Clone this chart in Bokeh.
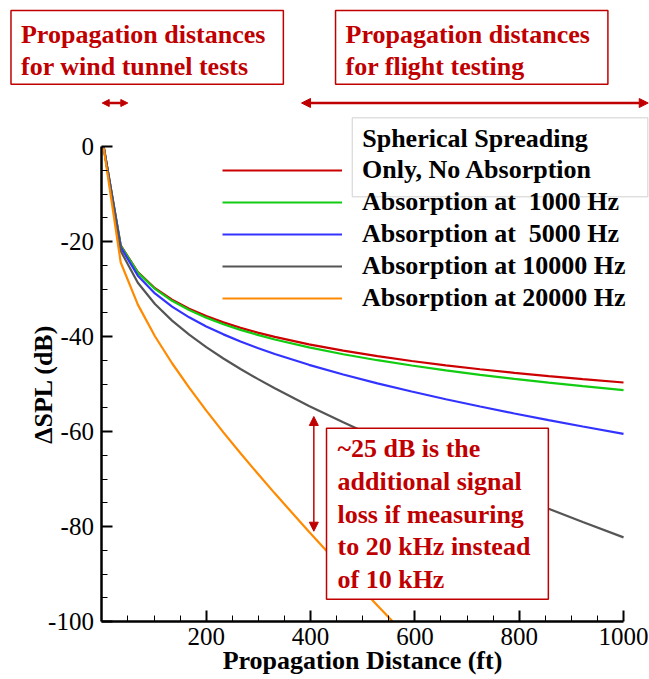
from bokeh.plotting import figure
from bokeh.models import (Range1d, FixedTicker, Label, Arrow, NormalHead, Legend, LegendItem)
from bokeh.embed import file_html
from bokeh.resources import INLINE

# ---- data ----
distance_ft = [3.3, 36.1, 68.9, 101.7, 134.5, 167.3, 200.1, 232.9, 265.7, 298.6, 331.4,
               397.0, 462.6, 528.2, 593.8, 659.4, 725.1, 790.7, 856.3, 921.9, 1000.0]
spherical = [0.0, -20.83, -26.44, -29.83, -32.26, -34.15, -35.71, -37.03, -38.17, -39.18, -40.09,
             -41.66, -42.98, -44.14, -45.15, -46.06, -46.89, -47.64, -48.33, -48.97, -49.68]
abs_1000 = [0.0, -20.89, -26.55, -29.99, -32.48, -34.42, -36.03, -37.41, -38.60, -39.66, -40.63,
            -42.30, -43.73, -44.99, -46.11, -47.13, -48.06, -48.92, -49.71, -50.46, -51.30]
abs_5000 = [0.0, -21.22, -27.19, -30.93, -33.72, -35.96, -37.88, -39.55, -41.05, -42.41, -43.68,
            -45.96, -47.99, -49.86, -51.58, -53.20, -54.74, -56.20, -57.60, -58.95, -60.50]
abs_10000 = [-0.1, -22.01, -28.69, -33.15, -36.65, -39.61, -42.24, -44.63, -46.84, -48.92, -50.90,
             -54.61, -58.07, -61.37, -64.52, -67.57, -70.54, -73.43, -76.26, -79.04, -82.29]
distance_ft_20k = [3.3, 36.1, 68.9, 101.7, 134.5, 167.3, 200.1, 232.9, 265.7, 298.6, 331.4,
                   397.0, 462.6, 528.2, 557.5]
abs_20000 = [-0.3, -24.42, -33.29, -39.94, -45.63, -50.78, -55.60, -60.18, -64.58, -68.85, -73.02,
             -81.11, -88.95, -96.63, -100.0]

x_ticks = [200, 400, 600, 800, 1000]
x_minor = [50, 100, 150, 250, 300, 350, 450, 500, 550, 650, 700, 750, 850, 900, 950]
y_ticks = [-100, -80, -60, -40, -20, 0]
y_minor = [-95, -90, -85, -75, -70, -65, -55, -50, -45, -35, -30, -25, -15, -10, -5]

series_labels = ["Only, No Absorption", "Absorption at \u00a01000 Hz", "Absorption at \u00a05000 Hz",
                 "Absorption at 10000 Hz", "Absorption at 20000 Hz"]
series_colors = ["#cc0000", "#11cc11", "#3333ff", "#555555", "#ff8a00"]

# annotation anchor positions (ft, dB)
wind_tunnel_range = (0.6, 49.7)
flight_range = (382.7, 1047.4)
range_arrow_y = 9.16
loss_arrow_x = 406.3
loss_arrow_y = (-56.84, -80.99)

RED = "#c00000"
SERIF = "Liberation Serif"

# the frame spans the whole canvas; axes are fixed at x=0 and y=-100
p = figure(width=649, height=679, x_range=Range1d(-194.4, 1049.8), y_range=Range1d(-112.21, 30.74),
           output_backend="svg", toolbar_location=None, title_location=None,
           min_border_left=0, min_border_right=0, min_border_top=0, min_border_bottom=0)
p.outline_line_color = None
p.grid.visible = False
p.background_fill_color = "white"

xs_all = [distance_ft, distance_ft, distance_ft, distance_ft, distance_ft_20k]
ys_all = [spherical, abs_1000, abs_5000, abs_10000, abs_20000]
renderers = []
for xs, ys, c in zip(xs_all, ys_all, series_colors):
    renderers.append(p.line(xs, ys, line_color=c, line_width=2.2))

# axes
xa, ya = p.xaxis[0], p.yaxis[0]
xa.fixed_location = -100
xa.bounds = (0, 1000)
ya.fixed_location = 0
ya.bounds = (-100, 0)
for ax, ticks, minor in ((xa, x_ticks, x_minor), (ya, y_ticks, y_minor)):
    ax.ticker = FixedTicker(ticks=ticks, minor_ticks=minor)
    ax.major_label_overrides = {t: str(t) for t in ticks}
    ax.major_tick_in = 11
    ax.major_tick_out = 0
    ax.minor_tick_in = 6
    ax.minor_tick_out = 0
    ax.axis_line_width = 2.5
    ax.major_tick_line_width = 2
    ax.minor_tick_line_width = 1
    ax.axis_line_color = "black"
    ax.major_label_text_font = SERIF
    ax.major_label_text_font_size = "25px"
    ax.major_label_text_color = "black"
    ax.axis_label_text_font = SERIF
    ax.axis_label_text_font_style = "bold"
    ax.axis_label_text_font_size = "26px"
    ax.axis_label_text_color = "black"

xa.axis_label = "Propagation Distance (ft)"
ya.axis_label = "\u0394SPL (dB)"
xa.major_label_standoff = 6
xa.axis_label_standoff = -2
ya.major_label_standoff = 8
ya.axis_label_standoff = -13

# framed first legend entry
p.add_layout(Label(x=479.9, y=6.04, text="Spherical Spreading", text_font=SERIF, text_font_style="bold",
                   text_font_size="26px", text_color="black", text_align="left", text_baseline="top",
                   border_line_color="#d0d0d0", border_line_width=1, background_fill_color="white",
                   background_fill_alpha=0.0, padding=(10, 60, 6, 44)))

legend = Legend(items=[LegendItem(label=l, renderers=[r]) for l, r in zip(series_labels, renderers)],
                location=(222, 366), orientation="vertical", glyph_width=120, glyph_height=20,
                label_standoff=20, spacing=2, padding=0, margin=0,
                border_line_alpha=0, background_fill_alpha=0,
                label_text_font=SERIF, label_text_font_style="bold", label_text_font_size="26px",
                label_text_color="black")
p.add_layout(legend)

# header boxes
for x_box, txt in ((-174.3, "Propagation distances\nfor wind tunnel tests"),
                   (447.9, "Propagation distances\nfor flight testing")):
    p.add_layout(Label(x=x_box, y=28.63, text=txt, text_font=SERIF, text_font_style="bold",
                       text_font_size="26px", text_color=RED, text_align="left", text_baseline="top",
                       text_line_height=1.13,
                       border_line_color=RED, border_line_width=1.5, background_fill_color="white",
                       padding=(10, 18, 9, 3)))

# range arrows
p.add_layout(Arrow(x_start=wind_tunnel_range[0], x_end=wind_tunnel_range[1], y_start=range_arrow_y,
                   y_end=range_arrow_y, line_color=RED, line_width=2.5,
                   start=NormalHead(size=7, fill_color=RED, line_color=RED),
                   end=NormalHead(size=7, fill_color=RED, line_color=RED)))
p.add_layout(Arrow(x_start=flight_range[0], x_end=flight_range[1], y_start=range_arrow_y,
                   y_end=range_arrow_y, line_color=RED, line_width=2.5,
                   start=NormalHead(size=9, fill_color=RED, line_color=RED),
                   end=NormalHead(size=9, fill_color=RED, line_color=RED)))

# loss annotation
p.add_layout(Arrow(x_start=loss_arrow_x, x_end=loss_arrow_x, y_start=loss_arrow_y[0],
                   y_end=loss_arrow_y[1], line_color=RED, line_width=1.5,
                   start=NormalHead(size=9, fill_color=RED, line_color=RED),
                   end=NormalHead(size=9, fill_color=RED, line_color=RED)))
p.add_layout(Label(x=430.6, y=-59.3,
                   text="~25 dB is the\nadditional signal\nloss if measuring\nto 20 kHz instead\nof 10 kHz",
                   text_font=SERIF, text_font_style="bold", text_font_size="26px", text_color=RED,
                   text_align="left", text_baseline="top", text_line_height=1.13,
                   border_line_color=RED, border_line_width=1.5, background_fill_color="white",
                   padding=(11, 18, 6, 5)))

open("out.html", "w").write(file_html(p, INLINE))
